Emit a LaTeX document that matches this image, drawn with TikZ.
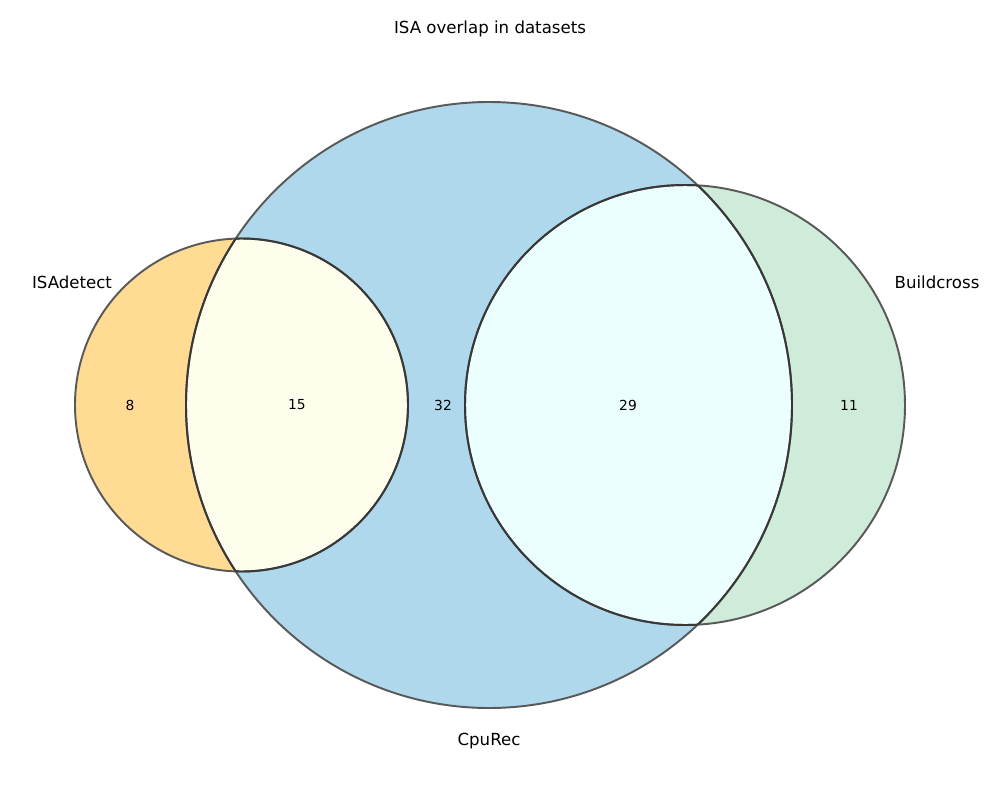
\documentclass[tikz,border=0pt]{standalone}
\usepackage{fontspec}
\setmainfont{DejaVu Sans}
\begin{document}
\begin{tikzpicture}[x=0.254mm,y=-0.254mm,
  lbl/.style={font=\fontsize{12}{14}\selectfont, inner sep=0pt},
  num/.style={font=\fontsize{10}{12}\selectfont, inner sep=0pt},
  edge/.style={draw=black!65, line width=1.4pt},
  inneredge/.style={draw=black!78, line width=1.4pt}]
\definecolor{cOrange}{HTML}{FFDB94}
\definecolor{cYellow}{HTML}{FFFEEC}
\definecolor{cBlue}{HTML}{AFD8EC}
\definecolor{cCyan}{HTML}{EBFFFE}
\definecolor{cGreen}{HTML}{CFEBD9}
\useasboundingbox (0,0) rectangle (1000,800);
\fill[white] (0,0) rectangle (1000,800);
\def\isa{(241.5,405) circle[radius=166.5]}
\def\cpu{(489,405) circle[radius=303]}
\def\bld{(685,405) circle[radius=220]}
% fills
\fill[cBlue] \cpu;
\fill[cOrange] \isa;
\fill[cGreen] \bld;
\begin{scope}\clip \isa; \fill[cYellow] \cpu; \end{scope}
\begin{scope}\clip \bld; \fill[cCyan] \cpu; \end{scope}
% outlines
\draw[edge] \isa;
\draw[edge] \cpu;
\draw[edge] \bld;
\begin{scope}\clip \cpu; \draw[inneredge] \isa; \draw[inneredge] \bld; \end{scope}
\begin{scope}\clip \isa; \draw[inneredge] \cpu; \end{scope}
\begin{scope}\clip \bld; \draw[inneredge] \cpu; \end{scope}
% texts
\node[lbl] (title) at (490,29) {ISA overlap in datasets};
\node[lbl] (lisa) at (72,282) {ISAdetect};
\node[lbl] (lbld) at (937,282) {Buildcross};
\node[lbl] (lcpu) at (489,741) {CpuRec};
\node[num] (n1) at (130,405) {8};
\node[num] (n2) at (297,405) {15};
\node[num] (n3) at (443,405) {32};
\node[num] (n4) at (628,405) {29};
\node[num] (n5) at (849,405) {11};
\end{tikzpicture}
\end{document}
